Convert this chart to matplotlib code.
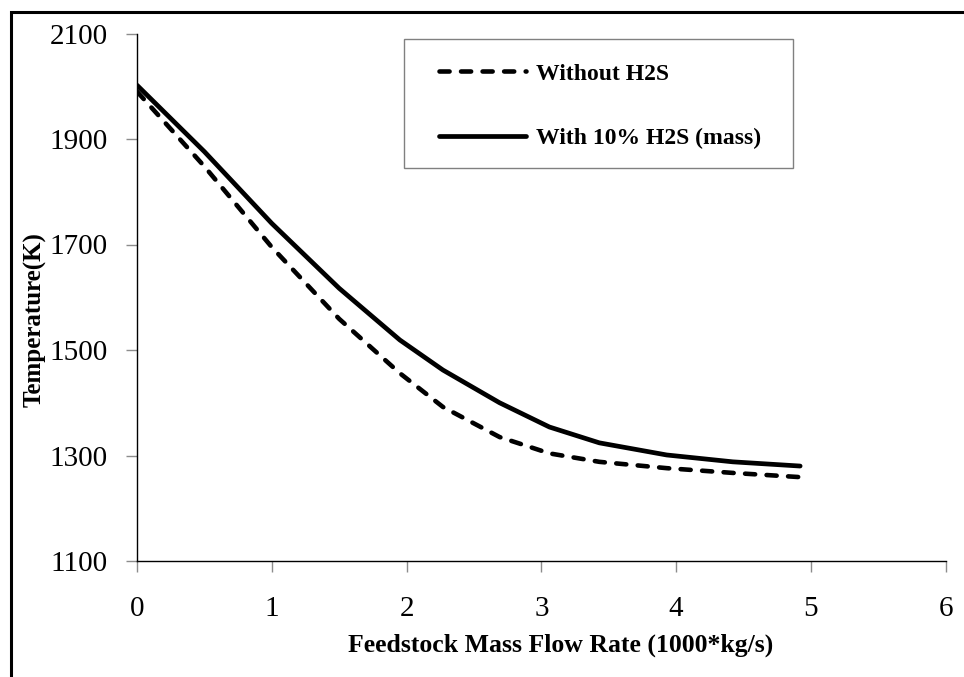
import numpy as np
import matplotlib
matplotlib.use("Agg")
import matplotlib.pyplot as plt
from matplotlib.patches import Rectangle

# values
flow = [0, 0.5, 1.0, 1.5, 1.95, 2.27, 2.69, 3.06, 3.43, 3.93, 4.42, 4.92]
temp_no_h2s = [1990, 1848, 1695, 1559, 1456, 1392, 1335, 1304, 1288, 1276, 1267, 1259]
temp_h2s = [2002, 1876, 1740, 1617, 1519, 1462, 1400, 1354, 1324, 1301, 1288, 1280]

x_ticks = [0, 1, 2, 3, 4, 5, 6]
y_ticks = [1100, 1300, 1500, 1700, 1900, 2100]

plt.rcParams['font.family'] = ['Liberation Serif', 'DejaVu Serif']

W, H = 964, 677
fig = plt.figure(figsize=(W / 100, H / 100), dpi=100)
ax = fig.add_axes([137 / W, 1 - 561 / H, (945.7 - 137) / W, (561 - 33.5) / H])

ax.plot(flow, temp_no_h2s, color='black', lw=3.3, linestyle=(0, (2.2, 2.5)),
        dash_capstyle='round', label='Without H2S')
ax.plot(flow, temp_h2s, color='black', lw=3.4, solid_capstyle='round',
        label='With 10% H2S (mass)')

ax.set_xlim(0, 6)
ax.set_ylim(1100, 2100)
ax.set_xticks(x_ticks)
ax.set_yticks(y_ticks)
ax.tick_params(axis='both', direction='out', length=8, width=1, color='#8c8c8c',
               labelsize=21)
ax.tick_params(axis='y', pad=13)
ax.tick_params(axis='x', pad=17)

for s in ['top', 'right']:
    ax.spines[s].set_visible(False)
for s in ['left', 'bottom']:
    ax.spines[s].set_linewidth(1.0)
    ax.spines[s].set_color('black')

ax.set_xlabel('Feedstock Mass Flow Rate (1000*kg/s)', fontsize=18.5, fontweight='bold')
ax.xaxis.label.set_va('center')
ax.xaxis.set_label_coords((561 - 137) / 808.7, -(645 - 561) / 527.5)
ax.set_ylabel('Temperature(K)', fontsize=18, fontweight='bold')
ax.yaxis.label.set_va('center')
ax.yaxis.set_label_coords((35 - 137) / 808.7, (561 - 320) / 527.5)

# legend without its own frame, box drawn separately
leg = ax.legend(loc='upper left', bbox_to_anchor=(439 / W, 1 - 63 / H),
                bbox_transform=fig.transFigure, frameon=False,
                prop={'weight': 'bold', 'size': 17}, handlelength=3.7,
                handletextpad=0.4, borderpad=0, labelspacing=1.82,
                borderaxespad=0)
fig.patches.append(Rectangle((404 / W, 1 - 168 / H), (793 - 404) / W, (168 - 39) / H,
                             transform=fig.transFigure, fill=False,
                             edgecolor='#808080', lw=1.0))

# outer frame around the figure (cut off at right and bottom)
fig.patches.append(Rectangle((11 / W, -0.1), 1.2, 1.1 - 11.5 / H, transform=fig.transFigure,
                             fill=False, edgecolor='black', lw=2.2))

fig.savefig('out.png', dpi=100)
